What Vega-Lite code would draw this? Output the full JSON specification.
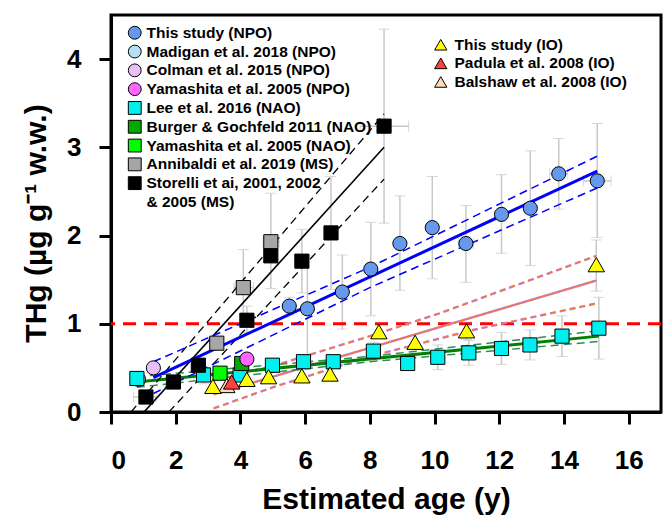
{
  "$schema": "https://vega.github.io/schema/vega-lite/v6.json",
  "width": 550,
  "height": 397,
  "autosize": {"type": "none"},
  "padding": {"left": 111, "top": 15, "right": 10, "bottom": 107},
  "background": "white",
  "datasets": {
    "pts": [
      {"study": "Madigan et al. 2018 (NPO)", "ocean": "NPO", "age": 0.85, "thg": 0.37},
      {"study": "Lee et al. 2016 (NAO)", "ocean": "NAO", "age": 0.80, "thg": 0.38},
      {"study": "Lee et al. 2016 (NAO)", "ocean": "NAO", "age": 2.86, "thg": 0.42, "ylo": 0.32, "yhi": 0.52, "xlo": 2.55, "xhi": 3.15},
      {"study": "Lee et al. 2016 (NAO)", "ocean": "NAO", "age": 3.99, "thg": 0.42},
      {"study": "Lee et al. 2016 (NAO)", "ocean": "NAO", "age": 4.99, "thg": 0.53, "ylo": 0.45, "yhi": 0.61},
      {"study": "Lee et al. 2016 (NAO)", "ocean": "NAO", "age": 5.95, "thg": 0.57, "ylo": 0.49, "yhi": 0.65},
      {"study": "Lee et al. 2016 (NAO)", "ocean": "NAO", "age": 6.87, "thg": 0.57},
      {"study": "Lee et al. 2016 (NAO)", "ocean": "NAO", "age": 8.11, "thg": 0.69, "ylo": 0.59, "yhi": 0.79},
      {"study": "Lee et al. 2016 (NAO)", "ocean": "NAO", "age": 9.17, "thg": 0.55, "ylo": 0.47, "yhi": 0.63},
      {"study": "Lee et al. 2016 (NAO)", "ocean": "NAO", "age": 10.10, "thg": 0.62, "ylo": 0.48, "yhi": 0.76},
      {"study": "Lee et al. 2016 (NAO)", "ocean": "NAO", "age": 11.06, "thg": 0.67, "ylo": 0.53, "yhi": 0.81},
      {"study": "Lee et al. 2016 (NAO)", "ocean": "NAO", "age": 12.07, "thg": 0.72, "ylo": 0.54, "yhi": 0.90},
      {"study": "Lee et al. 2016 (NAO)", "ocean": "NAO", "age": 12.95, "thg": 0.76, "ylo": 0.59, "yhi": 0.93},
      {"study": "Lee et al. 2016 (NAO)", "ocean": "NAO", "age": 13.94, "thg": 0.86, "ylo": 0.63, "yhi": 1.09},
      {"study": "Lee et al. 2016 (NAO)", "ocean": "NAO", "age": 15.08, "thg": 0.95, "ylo": 0.60, "yhi": 1.30},
      {"study": "Burger & Gochfeld 2011 (NAO)", "ocean": "NAO", "age": 4.04, "thg": 0.55},
      {"study": "Yamashita et al. 2005 (NAO)", "ocean": "NAO", "age": 3.37, "thg": 0.44},
      {"study": "Annibaldi et al. 2019 (MS)", "ocean": "MS", "age": 3.27, "thg": 0.78},
      {"study": "Annibaldi et al. 2019 (MS)", "ocean": "MS", "age": 4.09, "thg": 1.41, "ylo": 0.99, "yhi": 1.84, "xlo": 3.8, "xhi": 4.4},
      {"study": "Annibaldi et al. 2019 (MS)", "ocean": "MS", "age": 4.94, "thg": 1.93, "ylo": 1.40, "yhi": 2.48, "xlo": 4.7, "xhi": 5.2},
      {"study": "Storelli et ai, 2001, 2002 & 2005 (MS)", "ocean": "MS", "age": 1.08, "thg": 0.17, "xlo": 0.7, "xhi": 1.4},
      {"study": "Storelli et ai, 2001, 2002 & 2005 (MS)", "ocean": "MS", "age": 1.93, "thg": 0.34},
      {"study": "Storelli et ai, 2001, 2002 & 2005 (MS)", "ocean": "MS", "age": 2.70, "thg": 0.53},
      {"study": "Storelli et ai, 2001, 2002 & 2005 (MS)", "ocean": "MS", "age": 4.20, "thg": 1.04, "ylo": 0.90, "yhi": 1.20},
      {"study": "Storelli et ai, 2001, 2002 & 2005 (MS)", "ocean": "MS", "age": 4.94, "thg": 1.77},
      {"study": "Storelli et ai, 2001, 2002 & 2005 (MS)", "ocean": "MS", "age": 5.90, "thg": 1.71, "ylo": 1.35, "yhi": 2.07},
      {"study": "Storelli et ai, 2001, 2002 & 2005 (MS)", "ocean": "MS", "age": 6.80, "thg": 2.03, "ylo": 1.39, "yhi": 2.67},
      {"study": "Storelli et ai, 2001, 2002 & 2005 (MS)", "ocean": "MS", "age": 8.44, "thg": 3.24, "ylo": 2.14, "yhi": 4.34, "xlo": 7.7, "xhi": 9.2},
      {"study": "Colman et al. 2015 (NPO)", "ocean": "NPO", "age": 1.31, "thg": 0.50},
      {"study": "Yamashita et al. 2005 (NPO)", "ocean": "NPO", "age": 4.20, "thg": 0.60},
      {"study": "This study (NPO)", "ocean": "NPO", "age": 5.51, "thg": 1.20, "ylo": 1.10, "yhi": 1.30},
      {"study": "This study (NPO)", "ocean": "NPO", "age": 6.07, "thg": 1.17, "ylo": 0.57, "yhi": 1.77},
      {"study": "This study (NPO)", "ocean": "NPO", "age": 7.15, "thg": 1.36, "ylo": 0.94, "yhi": 1.78},
      {"study": "This study (NPO)", "ocean": "NPO", "age": 8.03, "thg": 1.62, "ylo": 1.09, "yhi": 2.15},
      {"study": "This study (NPO)", "ocean": "NPO", "age": 8.93, "thg": 1.91, "ylo": 1.38, "yhi": 2.45},
      {"study": "This study (NPO)", "ocean": "NPO", "age": 9.93, "thg": 2.09, "ylo": 1.51, "yhi": 2.67},
      {"study": "This study (NPO)", "ocean": "NPO", "age": 10.97, "thg": 1.91, "ylo": 1.47, "yhi": 2.34, "xlo": 10.74, "xhi": 11.2},
      {"study": "This study (NPO)", "ocean": "NPO", "age": 12.07, "thg": 2.24, "ylo": 1.80, "yhi": 2.69},
      {"study": "This study (NPO)", "ocean": "NPO", "age": 12.96, "thg": 2.31, "ylo": 1.66, "yhi": 2.96},
      {"study": "This study (NPO)", "ocean": "NPO", "age": 13.84, "thg": 2.70, "ylo": 2.30, "yhi": 3.10, "xlo": 13.56, "xhi": 14.12},
      {"study": "This study (NPO)", "ocean": "NPO", "age": 15.03, "thg": 2.62, "ylo": 1.98, "yhi": 3.27, "xlo": 14.6, "xhi": 15.46},
      {"study": "Balshaw et al. 2008 (IO)", "ocean": "IO", "age": 3.58, "thg": 0.30},
      {"study": "Padula et al. 2008 (IO)", "ocean": "IO", "age": 3.73, "thg": 0.34},
      {"study": "This study (IO)", "ocean": "IO", "age": 3.15, "thg": 0.29},
      {"study": "This study (IO)", "ocean": "IO", "age": 4.20, "thg": 0.37},
      {"study": "This study (IO)", "ocean": "IO", "age": 4.87, "thg": 0.40},
      {"study": "This study (IO)", "ocean": "IO", "age": 5.90, "thg": 0.41},
      {"study": "This study (IO)", "ocean": "IO", "age": 6.77, "thg": 0.43},
      {"study": "This study (IO)", "ocean": "IO", "age": 8.28, "thg": 0.91},
      {"study": "This study (IO)", "ocean": "IO", "age": 9.40, "thg": 0.79},
      {"study": "This study (IO)", "ocean": "IO", "age": 10.99, "thg": 0.92, "ylo": 0.82, "yhi": 1.02},
      {"study": "This study (IO)", "ocean": "IO", "age": 15.0, "thg": 1.67, "ylo": 1.37, "yhi": 1.95}
    ],
    "fits": [
      {"grp": "NPO", "part": "fit", "age": 1.31, "thg": 0.39},
      {"grp": "NPO", "part": "fit", "age": 15.03, "thg": 2.73},
      {"grp": "NPO", "part": "hi", "age": 1.31, "thg": 0.57},
      {"grp": "NPO", "part": "hi", "age": 8.0, "thg": 1.64},
      {"grp": "NPO", "part": "hi", "age": 15.03, "thg": 2.90},
      {"grp": "NPO", "part": "lo", "age": 1.31, "thg": 0.21},
      {"grp": "NPO", "part": "lo", "age": 8.0, "thg": 1.41},
      {"grp": "NPO", "part": "lo", "age": 15.03, "thg": 2.54},
      {"grp": "NAO", "part": "fit", "age": 0.8, "thg": 0.34},
      {"grp": "NAO", "part": "fit", "age": 15.08, "thg": 0.86},
      {"grp": "NAO", "part": "hi", "age": 0.8, "thg": 0.40},
      {"grp": "NAO", "part": "hi", "age": 8.0, "thg": 0.63},
      {"grp": "NAO", "part": "hi", "age": 15.08, "thg": 0.92},
      {"grp": "NAO", "part": "lo", "age": 0.8, "thg": 0.28},
      {"grp": "NAO", "part": "lo", "age": 8.0, "thg": 0.57},
      {"grp": "NAO", "part": "lo", "age": 15.08, "thg": 0.80},
      {"grp": "MS", "part": "fit", "age": 1.02, "thg": 0.0},
      {"grp": "MS", "part": "fit", "age": 8.44, "thg": 3.0},
      {"grp": "MS", "part": "hi", "age": 0.62, "thg": 0.0},
      {"grp": "MS", "part": "hi", "age": 8.44, "thg": 3.38},
      {"grp": "MS", "part": "lo", "age": 1.79, "thg": 0.0},
      {"grp": "MS", "part": "lo", "age": 8.44, "thg": 2.64},
      {"grp": "IO", "part": "fit", "age": 3.17, "thg": 0.20},
      {"grp": "IO", "part": "fit", "age": 15.0, "thg": 1.49},
      {"grp": "IO", "part": "hi", "age": 3.17, "thg": 0.36},
      {"grp": "IO", "part": "hi", "age": 5.0, "thg": 0.52},
      {"grp": "IO", "part": "hi", "age": 8.0, "thg": 0.86},
      {"grp": "IO", "part": "hi", "age": 10.17, "thg": 1.12},
      {"grp": "IO", "part": "hi", "age": 15.0, "thg": 1.77},
      {"grp": "IO", "part": "lo", "age": 3.17, "thg": 0.04},
      {"grp": "IO", "part": "lo", "age": 5.0, "thg": 0.28},
      {"grp": "IO", "part": "lo", "age": 8.0, "thg": 0.63},
      {"grp": "IO", "part": "lo", "age": 11.19, "thg": 0.93},
      {"grp": "IO", "part": "lo", "age": 15.0, "thg": 1.23}
    ]
  },
  "layer": [
    {
      "data": {"name": "pts"},
      "transform": [{"filter": "isValid(datum.ylo)"}],
      "mark": {"type": "errorbar", "ticks": {"size": 11, "color": "#c8c8c8", "strokeWidth": 1.5}, "rule": {"color": "#c8c8c8", "strokeWidth": 1.5}},
      "encoding": {
        "x": {"field": "age", "type": "quantitative", "title": "Estimated age (y)", "scale": {"domain": [0, 17], "nice": false}, "axis": {"values": [0, 2, 4, 6, 8, 10, 12, 14, 16], "format": "d", "labelPadding": 23, "titlePadding": 11}},
        "y": {"field": "ylo", "type": "quantitative", "title": "THg (µg g⁻¹ w.w.)", "scale": {"domain": [0, 4.5], "nice": false}, "axis": {"values": [0, 1, 2, 3, 4], "format": "d", "labelPadding": 18, "titlePadding": 15, "titleY": 208}},
        "y2": {"field": "yhi"}
      }
    },
    {
      "data": {"name": "pts"},
      "transform": [{"filter": "isValid(datum.xlo)"}],
      "mark": {"type": "errorbar", "ticks": {"size": 11, "color": "#c8c8c8", "strokeWidth": 1.5}, "rule": {"color": "#c8c8c8", "strokeWidth": 1.5}},
      "encoding": {
        "x": {"field": "xlo", "type": "quantitative", "title": "Estimated age (y)"},
        "x2": {"field": "xhi"},
        "y": {"field": "thg", "type": "quantitative", "title": "THg (µg g⁻¹ w.w.)"}
      }
    },
    {
      "data": {"values": [{}]},
      "mark": {"type": "rule", "stroke": "#ff0000", "strokeWidth": 3, "strokeDash": [13, 8]},
      "encoding": {"y": {"datum": 1, "type": "quantitative", "title": "THg (µg g⁻¹ w.w.)"}}
    },
    {
      "data": {"name": "fits"},
      "transform": [{"filter": "datum.grp == 'IO'"}],
      "mark": {"type": "line", "stroke": "#c080f0", "strokeWidth": 2.4, "clip": true},
      "encoding": {
        "x": {"field": "age", "type": "quantitative", "title": "Estimated age (y)"},
        "y": {"field": "thg", "type": "quantitative", "title": "THg (µg g⁻¹ w.w.)"},
        "detail": {"field": "part"},
        "strokeDash": {"field": "part", "type": "nominal", "scale": {"domain": ["fit", "hi", "lo"], "range": [[1, 0], [6, 4], [6, 4]]}, "legend": null}
      }
    },
    {
      "data": {"name": "fits"},
      "transform": [{"filter": "datum.grp == 'IO'"}],
      "mark": {"type": "line", "stroke": "#f07a40", "strokeWidth": 1.5, "clip": true},
      "encoding": {
        "x": {"field": "age", "type": "quantitative", "title": "Estimated age (y)"},
        "y": {"field": "thg", "type": "quantitative", "title": "THg (µg g⁻¹ w.w.)"},
        "detail": {"field": "part"},
        "strokeDash": {"field": "part", "type": "nominal", "scale": {"domain": ["fit", "hi", "lo"], "range": [[1, 0], [6, 4], [6, 4]]}, "legend": null}
      }
    },
    {
      "data": {"name": "fits"},
      "transform": [{"filter": "datum.grp == 'NAO' && datum.part != 'fit'"}],
      "mark": {"type": "line", "stroke": "#2e8b57", "strokeWidth": 1.5, "strokeDash": [8, 5], "clip": true},
      "encoding": {
        "x": {"field": "age", "type": "quantitative", "title": "Estimated age (y)"},
        "y": {"field": "thg", "type": "quantitative", "title": "THg (µg g⁻¹ w.w.)"},
        "detail": {"field": "part"}
      }
    },
    {
      "data": {"name": "fits"},
      "transform": [{"filter": "datum.grp == 'NAO' && datum.part == 'fit'"}],
      "mark": {"type": "line", "stroke": "#008000", "strokeWidth": 3, "clip": true},
      "encoding": {
        "x": {"field": "age", "type": "quantitative", "title": "Estimated age (y)"},
        "y": {"field": "thg", "type": "quantitative", "title": "THg (µg g⁻¹ w.w.)"}
      }
    },
    {
      "data": {"name": "fits"},
      "transform": [{"filter": "datum.grp == 'MS' && datum.part != 'fit'"}],
      "mark": {"type": "line", "stroke": "#000000", "strokeWidth": 1.3, "strokeDash": [8, 5], "clip": true},
      "encoding": {
        "x": {"field": "age", "type": "quantitative", "title": "Estimated age (y)"},
        "y": {"field": "thg", "type": "quantitative", "title": "THg (µg g⁻¹ w.w.)"},
        "detail": {"field": "part"}
      }
    },
    {
      "data": {"name": "fits"},
      "transform": [{"filter": "datum.grp == 'MS' && datum.part == 'fit'"}],
      "mark": {"type": "line", "stroke": "#000000", "strokeWidth": 1.6, "clip": true},
      "encoding": {
        "x": {"field": "age", "type": "quantitative", "title": "Estimated age (y)"},
        "y": {"field": "thg", "type": "quantitative", "title": "THg (µg g⁻¹ w.w.)"}
      }
    },
    {
      "data": {"name": "fits"},
      "transform": [{"filter": "datum.grp == 'NPO' && datum.part != 'fit'"}],
      "mark": {"type": "line", "stroke": "#0000ff", "strokeWidth": 1.5, "strokeDash": [8, 5], "clip": true},
      "encoding": {
        "x": {"field": "age", "type": "quantitative", "title": "Estimated age (y)"},
        "y": {"field": "thg", "type": "quantitative", "title": "THg (µg g⁻¹ w.w.)"},
        "detail": {"field": "part"}
      }
    },
    {
      "data": {"name": "fits"},
      "transform": [{"filter": "datum.grp == 'NPO' && datum.part == 'fit'"}],
      "mark": {"type": "line", "stroke": "#0000ff", "strokeWidth": 3, "clip": true},
      "encoding": {
        "x": {"field": "age", "type": "quantitative", "title": "Estimated age (y)"},
        "y": {"field": "thg", "type": "quantitative", "title": "THg (µg g⁻¹ w.w.)"}
      }
    },
    {
      "data": {"name": "pts"},
      "transform": [{"filter": "datum.ocean != 'IO'"}],
      "mark": {"type": "point", "filled": true, "size": 200, "strokeWidth": 1, "opacity": 1},
      "encoding": {
        "x": {"field": "age", "type": "quantitative", "title": "Estimated age (y)"},
        "y": {"field": "thg", "type": "quantitative", "title": "THg (µg g⁻¹ w.w.)"},
        "fill": {
          "field": "study", "type": "nominal",
          "scale": {
            "domain": ["This study (NPO)", "Madigan et al. 2018 (NPO)", "Colman et al. 2015 (NPO)", "Yamashita et al. 2005 (NPO)", "Lee et al. 2016 (NAO)", "Burger & Gochfeld 2011 (NAO)", "Yamashita et al. 2005 (NAO)", "Annibaldi et al. 2019 (MS)", "Storelli et ai, 2001, 2002 & 2005 (MS)", "& 2005 (MS)"],
            "range": ["#6699ee", "#b3e0f2", "#e6c0f5", "#ff66ff", "#00f0f0", "#00aa00", "#00ff00", "#a6a6a6", "#000000", "transparent"]
          },
          "legend": {
            "title": null, "orient": "none", "legendX": 16, "legendY": 10, "padding": 0, "rowPadding": 0.8,
            "symbolSize": 165, "labelFontSize": 15.5, "labelFontWeight": "bold", "labelOffset": 4, "labelLimit": 400,
            "labelExpr": "datum.label == 'Storelli et ai, 2001, 2002 & 2005 (MS)' ? 'Storelli et ai, 2001, 2002' : datum.label"
          }
        },
        "shape": {
          "field": "study", "type": "nominal",
          "scale": {
            "domain": ["This study (NPO)", "Madigan et al. 2018 (NPO)", "Colman et al. 2015 (NPO)", "Yamashita et al. 2005 (NPO)", "Lee et al. 2016 (NAO)", "Burger & Gochfeld 2011 (NAO)", "Yamashita et al. 2005 (NAO)", "Annibaldi et al. 2019 (MS)", "Storelli et ai, 2001, 2002 & 2005 (MS)", "& 2005 (MS)"],
            "range": ["circle", "circle", "circle", "circle", "square", "square", "square", "square", "square", "square"]
          }
        },
        "stroke": {
          "field": "study", "type": "nominal",
          "scale": {
            "domain": ["This study (NPO)", "Madigan et al. 2018 (NPO)", "Colman et al. 2015 (NPO)", "Yamashita et al. 2005 (NPO)", "Lee et al. 2016 (NAO)", "Burger & Gochfeld 2011 (NAO)", "Yamashita et al. 2005 (NAO)", "Annibaldi et al. 2019 (MS)", "Storelli et ai, 2001, 2002 & 2005 (MS)", "& 2005 (MS)"],
            "range": ["#000000", "#000000", "#000000", "#000000", "#000000", "#000000", "#000000", "#000000", "#000000", "transparent"]
          }
        }
      }
    },
    {
      "data": {"name": "pts"},
      "transform": [{"filter": "datum.ocean == 'IO'"}],
      "mark": {"type": "point", "filled": true, "size": 270, "strokeWidth": 1, "opacity": 1},
      "encoding": {
        "x": {"field": "age", "type": "quantitative", "title": "Estimated age (y)"},
        "y": {"field": "thg", "type": "quantitative", "title": "THg (µg g⁻¹ w.w.)"},
        "fill": {
          "field": "study", "type": "nominal",
          "scale": {"domain": ["This study (IO)", "Padula et al. 2008 (IO)", "Balshaw et al. 2008 (IO)"], "range": ["#ffff00", "#ff4040", "#ffdab9"]},
          "legend": {
            "title": null, "orient": "none", "legendX": 322, "legendY": 22, "padding": 0, "rowPadding": 1.6,
            "symbolSize": 150, "labelFontSize": 15.5, "labelFontWeight": "bold", "labelOffset": 6, "labelLimit": 400
          }
        },
        "shape": {
          "field": "study", "type": "nominal",
          "scale": {"domain": ["This study (IO)", "Padula et al. 2008 (IO)", "Balshaw et al. 2008 (IO)"], "range": ["triangle-up", "triangle-up", "triangle-up"]}
        },
        "stroke": {
          "field": "study", "type": "nominal",
          "scale": {"domain": ["This study (IO)", "Padula et al. 2008 (IO)", "Balshaw et al. 2008 (IO)"], "range": ["#000000", "#000000", "#000000"]}
        }
      }
    }
  ],
  "resolve": {"scale": {"fill": "independent", "shape": "independent", "stroke": "independent"}},
  "config": {
    "font": "Liberation Sans",
    "view": {"stroke": "#000000", "strokeWidth": 3},
    "axis": {
      "grid": false, "domainColor": "#000000", "domainWidth": 3, "tickColor": "#000000", "tickWidth": 3, "tickSize": 12,
      "labelFont": "Liberation Sans", "labelFontSize": 26, "labelFontWeight": "bold", "labelColor": "#000000",
      "titleFont": "Liberation Sans", "titleFontSize": 30, "titleFontWeight": "bold", "titleColor": "#000000"
    },
    "legend": {"labelFont": "Liberation Sans", "labelColor": "#000000", "symbolStrokeColor": "#000000", "symbolStrokeWidth": 1, "symbolOpacity": 1}
  }
}
